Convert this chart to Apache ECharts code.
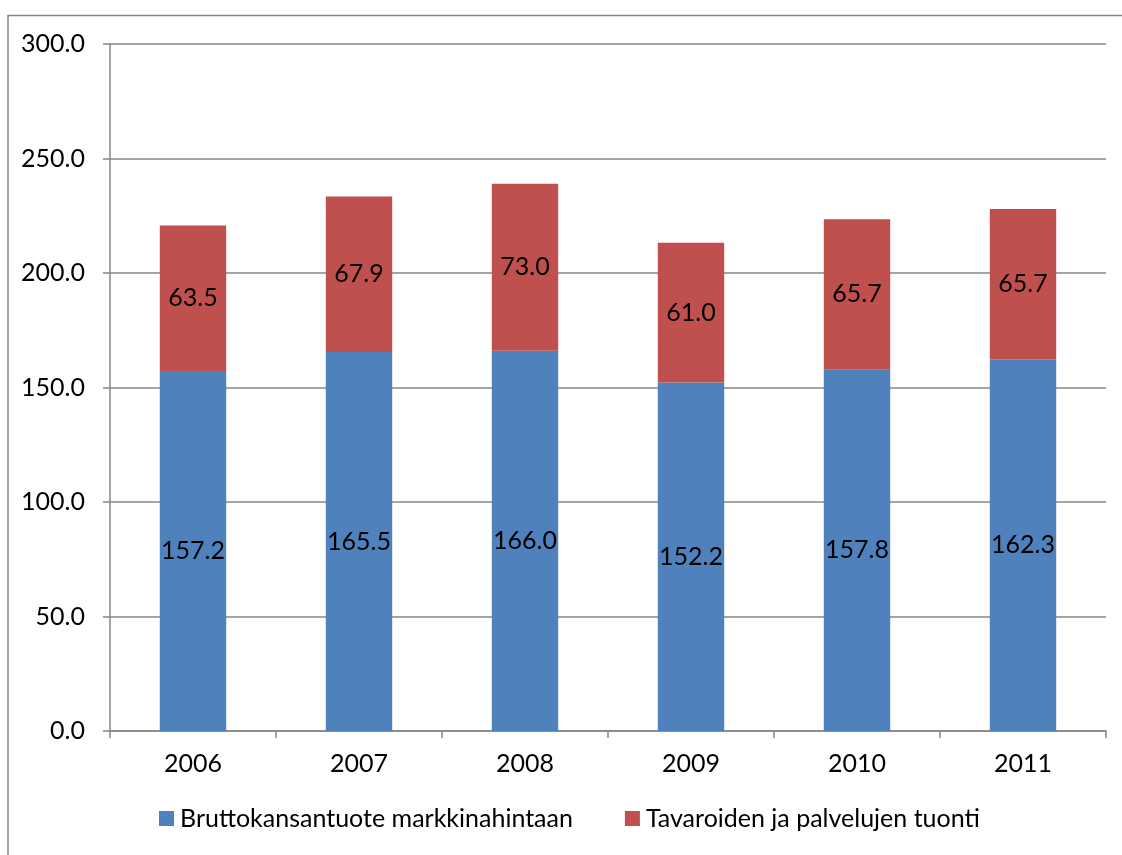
<!DOCTYPE html>
<html>
<head>
<meta charset="utf-8">
<style>
  html, body { margin: 0; padding: 0; background: #ffffff; }
  #chart { width: 1122px; height: 855px; }
</style>
<script src="https://cdn.jsdelivr.net/npm/echarts@6/dist/echarts.min.js"></script>
</head>
<body>
<div id="chart"></div>
<script>
// Years on the category axis
const years = ['2006', '2007', '2008', '2009', '2010', '2011'];

// Series names
const seriesNames = ['Bruttokansantuote markkinahintaan', 'Tavaroiden ja palvelujen tuonti'];

// Stacked values
const gdpValues = [157.2, 165.5, 166.0, 152.2, 157.8, 162.3];
const importValues = [63.5, 67.9, 73.0, 61.0, 65.7, 65.7];

// Value axis range
const yMin = 0;
const yMax = 300;
const yStep = 50;

const FONT = 'Lato';
const FONT_SIZE = 25;
const GRID_COLOR = '#878787';

const chart = echarts.init(document.getElementById('chart'), null, { renderer: 'canvas' });

const labelStyle = {
  show: true,
  position: 'inside',
  color: '#000000',
  fontFamily: FONT,
  fontSize: FONT_SIZE,
  formatter: p => Number(p.value).toFixed(1)
};

chart.setOption({
  animation: false,
  backgroundColor: '#ffffff',
  textStyle: { fontFamily: FONT },
  graphic: [{
    type: 'rect',
    shape: { x: 8, y: 15.5, width: 1300, height: 1000 },
    style: { fill: 'none', stroke: GRID_COLOR, lineWidth: 1.5 },
    silent: true,
    z: -1
  }],
  grid: { left: 110, right: 16, top: 44, bottom: 124, containLabel: false },
  legend: {
    bottom: 19,
    left: 154,
    itemWidth: 15,
    itemHeight: 15,
    itemGap: 52,
    icon: 'rect',
    textStyle: { fontFamily: FONT, fontSize: FONT_SIZE, color: '#000000', padding: [0, 0, 0, 1] },
    data: seriesNames
  },
  xAxis: {
    type: 'category',
    data: years,
    boundaryGap: true,
    axisLine: { show: true, lineStyle: { color: GRID_COLOR, width: 1.5 } },
    axisTick: { show: true, length: 7, inside: false, alignWithLabel: false, lineStyle: { color: GRID_COLOR, width: 1.5 } },
    axisLabel: { color: '#000000', fontFamily: FONT, fontSize: FONT_SIZE, margin: 20 },
    splitLine: { show: false }
  },
  yAxis: {
    type: 'value',
    min: yMin,
    max: yMax,
    interval: yStep,
    axisLine: { show: true, lineStyle: { color: GRID_COLOR, width: 1.5 } },
    axisTick: { show: true, length: 7, inside: false, lineStyle: { color: GRID_COLOR, width: 1.5 } },
    axisLabel: { color: '#000000', fontFamily: FONT, fontSize: FONT_SIZE, margin: 25, formatter: v => v.toFixed(1) },
    splitLine: { show: true, lineStyle: { color: GRID_COLOR, width: 1.5 } }
  },
  series: [
    {
      name: seriesNames[0],
      type: 'bar',
      stack: 'total',
      barWidth: '40%',
      data: gdpValues,
      itemStyle: { color: '#4F81BD' },
      label: labelStyle
    },
    {
      name: seriesNames[1],
      type: 'bar',
      stack: 'total',
      barWidth: '40%',
      data: importValues,
      itemStyle: { color: '#C0504D' },
      label: labelStyle
    }
  ]
});
</script>
</body>
</html>
